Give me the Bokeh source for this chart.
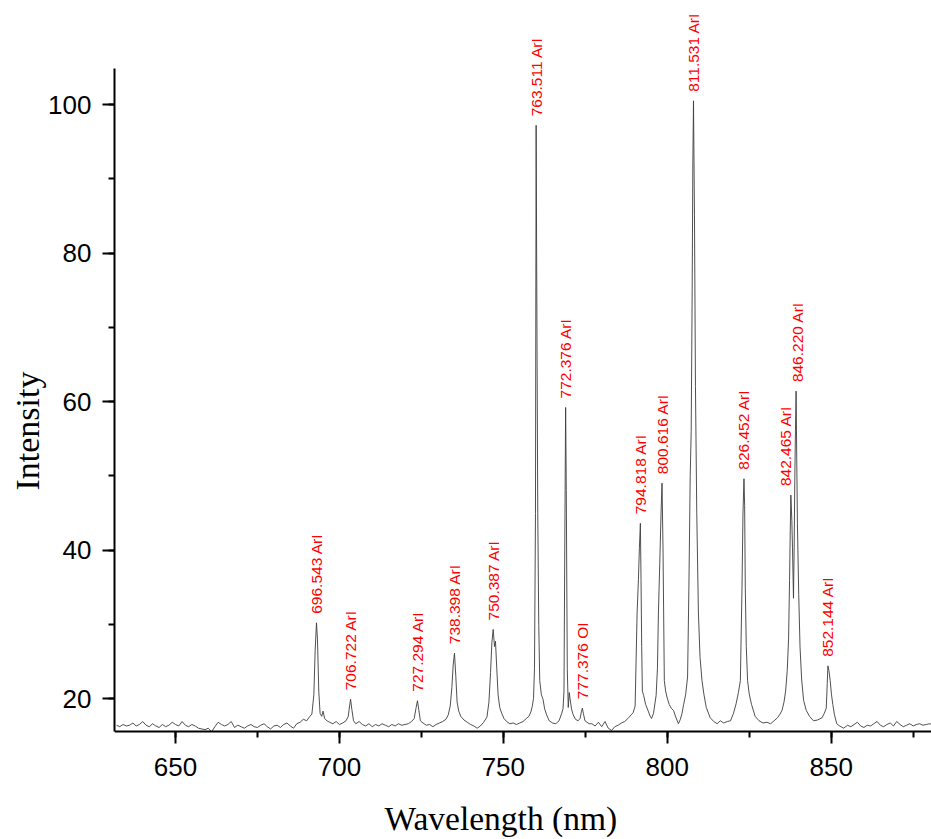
from math import pi
from bokeh.plotting import figure
from bokeh.models import ColumnDataSource, SingleIntervalTicker, Range1d, LabelSet, Label, Title
from bokeh.core.properties import value
from bokeh.embed import file_html
from bokeh.resources import INLINE

# ---------------- data ----------------
wl_a = [632, 633, 634, 635, 636, 637, 638, 639, 640, 641, 642, 643, 644, 645, 646, 647, 648, 649, 650, 651,
        652, 653, 654, 655, 656, 657, 658, 659, 660, 661, 662, 663, 664, 665, 666, 667, 668, 669, 670, 671,
        672, 673, 674, 675, 676, 677, 678, 679, 680, 681, 682, 683, 684, 685, 686, 687, 688, 689, 690, 691]
in_a = [16.4, 16.2, 16.5, 16.3, 16.4, 16.7, 16.3, 16.5, 16.9, 16.4, 16.2, 16.6, 16.3, 16.1, 16.5, 16.2, 16.4, 16.8, 16.5, 16.3,
        16.9, 16.4, 16.2, 16.5, 16.3, 16.0, 15.9, 15.8, 16.0, 15.5, 16.2, 16.8, 16.5, 16.3, 16.5, 16.9, 16.1, 16.4, 16.2, 16.0,
        16.3, 16.5, 16.2, 16.1, 16.4, 16.6, 16.2, 15.9, 16.3, 16.4, 16.1, 16.5, 16.7, 16.3, 16.0, 16.6, 16.8, 17.2, 17.0, 17.6]

wl_b = [691.6, 692.2, 692.6, 693.0, 693.3, 693.7, 694.1, 694.6, 695.0, 695.5, 696.2, 697, 698, 699, 700]
in_b = [17.9, 20.5, 26.5, 30.2, 28.0, 21.0, 18.0, 17.6, 18.3, 17.3, 17.0, 16.8, 16.6, 16.9, 16.5]

wl_c = [701, 702, 702.7, 703.1, 703.4, 703.8, 704.3, 705, 706, 707, 708, 709, 710, 711, 712, 713, 714, 715, 716,
        717, 718, 719, 720, 721, 722]
in_c = [16.7, 17.0, 17.6, 19.0, 19.9, 18.5, 17.0, 16.6, 16.9, 16.5, 16.3, 16.6, 16.2, 16.5, 16.3, 16.6, 16.4, 16.2, 16.5,
        16.3, 16.6, 16.4, 16.5, 16.6, 16.9]

wl_d = [722.8, 723.4, 723.8, 724.2, 724.7, 725.5, 726.5, 727.5, 728.5, 729.5, 730.5, 731.5, 732.5, 733.2]
in_d = [17.3, 18.8, 19.7, 18.5, 17.0, 16.7, 16.4, 16.5, 16.2, 16.5, 16.7, 16.9, 17.2, 17.8]

wl_e = [733.8, 734.3, 734.7, 735.1, 735.5, 735.9, 736.4, 737, 738, 739, 740, 741, 742, 743, 744, 745]
in_e = [19.0, 21.5, 24.5, 26.1, 23.0, 19.5, 18.3, 17.6, 17.1, 16.8, 16.5, 16.3, 16.0, 16.3, 16.8, 17.5]

wl_f = [745.6, 746.1, 746.5, 746.9, 747.3, 747.6, 748.0, 748.4, 748.9, 749.5, 750.2, 751, 752, 753, 754, 755, 756, 757]
in_f = [19.5, 23.5, 27.5, 29.3, 27.0, 27.7, 24.0, 20.5, 18.8, 18.0, 17.3, 16.9, 16.6, 16.7, 16.5, 16.7, 16.9, 17.3]

wl_g = [757.8, 758.4, 758.8, 759.2, 759.5, 759.8, 760.0, 760.2, 760.5, 760.8, 761.1, 761.6, 762.1, 762.6, 763.2,
        764.0, 765, 766, 767, 767.8]
in_g = [17.6, 18.2, 18.9, 20.0, 24.0, 44.9, 97.2, 75.0, 44.9, 30.0, 22.4, 20.5, 19.9, 18.6, 17.8,
        17.0, 16.7, 16.6, 17.0, 18.0]

wl_h = [768.2, 768.5, 768.8, 769.0, 769.2, 769.5, 769.8, 770.1, 770.4, 770.8, 771.3, 772.0, 772.8, 773.4, 773.8,
        774.1, 774.4, 774.9, 775.5, 776.2]
in_h = [18.6, 21.0, 45.0, 59.2, 48.0, 24.0, 18.8, 20.8, 19.8, 18.6, 17.8, 17.2, 17.0, 17.3, 18.2,
        18.7, 18.0, 17.0, 16.8, 16.6]

wl_i = [777, 778, 779, 780, 781, 782, 783, 784, 785, 786, 787, 788, 789]
in_i = [16.6, 16.3, 16.8, 16.2, 16.9, 16.0, 15.7, 16.2, 16.4, 16.7, 16.9, 17.3, 17.8]

wl_j = [789.6, 790.2, 790.8, 791.2, 791.5, 791.8, 792.0, 792.2, 792.4, 792.8, 793.4, 794.2, 794.8, 795.2, 795.8,
        796.6, 797.0, 797.3, 797.7, 798.1, 798.4, 798.7, 799.1, 799.5, 799.9, 800.6, 801.2, 801.9, 802.6, 803.4,
        804.0, 804.5, 805.0, 805.6, 806.2, 806.6, 807.0, 807.3, 807.6, 807.8, 808.0, 808.3, 808.6, 809.0, 809.5,
        810.0, 810.6, 811.2, 811.9, 813.1, 814.2, 815.2, 816.2, 817.2, 818.3, 819.3, 820.2, 821.0, 821.7, 822.3,
        822.8, 823.1, 823.4, 823.6, 823.8, 824.1, 824.5, 825.0, 825.7, 826.8, 828.0, 829.2, 830.4, 831.5, 832.6,
        833.6, 834.4, 835.0, 835.6, 836.1, 836.6, 837.0, 837.3, 837.5, 837.7, 838.0, 838.2, 838.5, 838.7, 838.9,
        839.1, 839.3, 839.5, 839.7, 840.1, 840.5, 841.0, 841.6, 842.4, 843.4, 844.6, 845.8, 847.2, 847.9, 848.5,
        848.8, 849.0, 849.3, 849.7, 850.1, 850.5, 851.0, 851.7, 852.6, 853.8]
in_j = [18.1, 19.0, 31.5, 36.0, 40.3, 43.6, 35.9, 27.0, 21.0, 20.4, 19.2, 18.3, 17.6, 17.3, 18.0,
        20.4, 24.0, 31.5, 38.0, 44.9, 49.0, 40.3, 22.4, 21.0, 20.2, 19.2, 18.7, 18.4, 17.5, 16.6,
        17.2, 18.0, 19.2, 20.5, 22.9, 35.0, 50.0, 56.0, 75.0, 92.0, 100.5, 85.0, 62.0, 45.0, 31.5,
        25.5, 22.4, 20.5, 18.8, 17.4, 16.9, 16.6, 17.0, 16.7, 16.9, 17.0, 18.0, 19.3, 20.8, 22.4,
        35.0, 45.0, 49.6, 46.0, 35.0, 27.0, 22.4, 20.6, 19.2, 17.6, 17.0, 16.7, 16.8, 16.6, 17.0,
        17.4, 17.9, 18.4, 19.5, 21.0, 23.8, 28.0, 35.9, 42.0, 47.4, 44.0, 40.3, 33.5, 40.0, 49.4,
        56.0, 61.4, 52.0, 43.6, 34.0, 26.9, 22.5, 19.7, 18.4, 17.6, 17.0, 17.1, 17.4, 18.0, 18.7,
        22.0, 24.4, 23.8, 22.4, 20.5, 19.2, 17.8, 16.6, 16.3, 16.0]

wl_k = [855, 856, 857, 858, 859, 860, 861, 862, 863, 864, 865, 866, 867, 868, 869, 870, 871, 872, 873, 874,
        875, 876, 877, 878, 879, 880, 881]
in_k = [16.4, 16.2, 16.5, 16.8, 16.3, 16.1, 16.4, 16.3, 16.6, 16.9, 16.4, 16.2, 16.5, 16.7, 16.3, 16.9, 16.5, 16.2, 16.4, 16.6,
        16.3, 16.5, 16.6, 16.4, 16.5, 16.6, 16.5]

wavelength = wl_a + wl_b + wl_c + wl_d + wl_e + wl_f + wl_g + wl_h + wl_i + wl_j + wl_k
intensity = in_a + in_b + in_c + in_d + in_e + in_f + in_g + in_h + in_i + in_j + in_k
assert len(wavelength) == len(intensity)

label_text = ["696.543 ArI", "706.722 ArI", "727.294 ArI", "738.398 ArI", "750.387 ArI", "763.511 ArI",
              "772.376 ArI", "777.376 OI", "794.818 ArI", "800.616 ArI", "811.531 ArI", "826.452 ArI",
              "842.465 ArI", "846.220 ArI", "852.144 ArI"]
label_x = [693.0, 703.4, 723.8, 735.1, 746.9, 760.0, 769.0, 774.1, 791.8, 798.4, 808.0, 823.4, 836.0, 839.6, 849.0]
label_y = [30.2, 19.9, 19.7, 26.1, 29.3, 97.2, 59.2, 18.7, 43.6, 49.0, 100.5, 49.6, 47.4, 61.4, 24.4]

x_title = "Wavelength (nm)"
y_title = "Intensity"

x_start, x_end = 631.39, 880.6
y_axis_start, y_axis_end = 15.556, 104.85
x_ticks_interval = 50
y_ticks_interval = 20

# ---------------- layout helpers (pixels -> data, for placing the plot frame) ----------------
W, H = 931, 839
frame_left, axis_bottom_px, axis_top_px = 114, 731, 68
px_per_y = (axis_bottom_px - axis_top_px) / (y_axis_end - y_axis_start)
px_per_x = (W - frame_left) / (x_end - x_start)
y_view_start = y_axis_start - (H - axis_bottom_px) / px_per_y
y_view_end = y_axis_end + axis_top_px / px_per_y

# ---------------- figure ----------------
p = figure(width=W, height=H,
           x_range=Range1d(x_start, x_end), y_range=Range1d(y_view_start, y_view_end),
           output_backend="svg", toolbar_location=None,
           min_border_left=frame_left, min_border_top=0, min_border_bottom=0, min_border_right=0)
p.outline_line_color = None
p.grid.visible = False
p.background_fill_color = "white"
p.border_fill_color = "white"

p.line(wavelength, intensity, line_color="#3c3c3c", line_width=0.9)

src = ColumnDataSource(dict(x=label_x, y=label_y, t=label_text))
labels = LabelSet(x="x", y="y", text="t", source=src, angle=pi / 2, angle_units="rad",
                  text_align="left", text_baseline="middle", y_offset=9,
                  text_color="#ff0000", text_font=value("Liberation Sans"), text_font_size="15.5px")
p.add_layout(labels)

for ax in (p.xaxis[0], p.yaxis[0]):
    ax.axis_line_width = 2
    ax.axis_line_color = "black"
    ax.major_tick_line_width = 2
    ax.minor_tick_line_width = 2
    ax.major_tick_out = 12
    ax.major_tick_in = 0
    ax.minor_tick_out = 6
    ax.minor_tick_in = 0
    ax.major_label_text_font = "Liberation Sans"
    ax.major_label_text_font_size = "26px"
    ax.major_label_text_color = "black"

p.xaxis[0].ticker = SingleIntervalTicker(interval=x_ticks_interval, num_minor_ticks=2)
p.yaxis[0].ticker = SingleIntervalTicker(interval=y_ticks_interval, num_minor_ticks=2)
p.yaxis[0].bounds = (y_axis_start, y_axis_end)
p.xaxis[0].fixed_location = y_axis_start
p.xaxis[0].major_label_standoff = 14
p.yaxis[0].major_label_standoff = 11

# x title: left edge at ~384 px, text placed so that its glyphs sit at ~806-835 px
xt = Label(x=x_start + (384 - frame_left) / px_per_x,
           y=y_axis_start - (818.0 - axis_bottom_px) / px_per_y,
           text=x_title, text_align="left", text_baseline="alphabetic",
           text_font="Liberation Serif", text_font_size="33.5px", text_color="black")
p.add_layout(xt)

yt = Title(text=y_title, align="left", offset=349, standoff=0,
           text_font="Liberation Serif", text_font_size="34px", text_font_style="normal",
           text_color="black")
p.add_layout(yt, "left")

open("out.html", "w").write(file_html(p, INLINE))
